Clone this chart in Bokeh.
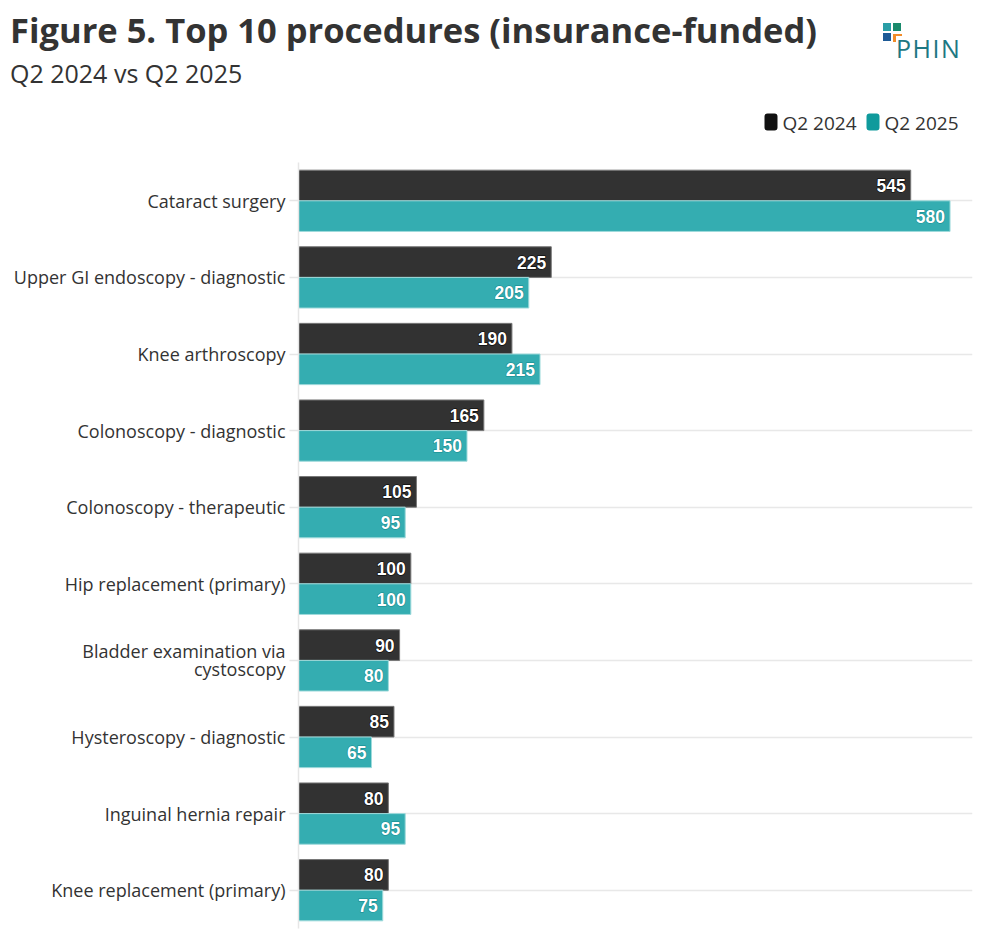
from bokeh.plotting import figure
from bokeh.models import FactorRange, Range1d, ColumnDataSource, Div
from bokeh.models.glyphs import Text
from bokeh.layouts import column
from bokeh.transform import dodge
from bokeh.core.properties import value
from bokeh.embed import file_html
from bokeh.resources import INLINE

# ---- data ----
categories = [
    "Cataract surgery",
    "Upper GI endoscopy - diagnostic",
    "Knee arthroscopy",
    "Colonoscopy - diagnostic",
    "Colonoscopy - therapeutic",
    "Hip replacement (primary)",
    "Bladder examination via\ncystoscopy",
    "Hysteroscopy - diagnostic",
    "Inguinal hernia repair",
    "Knee replacement (primary)",
]
q2_2024 = [545, 225, 190, 165, 105, 100, 90, 85, 80, 80]
q2_2025 = [580, 205, 215, 150, 95, 100, 80, 65, 95, 75]
series_names = ["Q2 2024", "Q2 2025"]

title_text = "Figure 5. Top 10 procedures (insurance-funded)"
subtitle_text = "Q2 2024 vs Q2 2025"
logo_text = "PHIN"

DARK = "#323232"
TEAL = "#34adb1"
TEAL_LEG = "#0f9a9c"
TXT = "#333333"
FONT = "Open Sans"

W = 974
LEFT = 298
DIV_H = 100
LEG_H = 60
MAIN_H = 772

# ---- header: title, subtitle and logo as HTML text ----
def box(l, t, w, hh, c):
    return (f'<div style="position:absolute;left:{l}px;top:{t}px;width:{w}px;height:{hh}px;'
            f'background:{c}"></div>')

header_html = (
    f'<div style="position:relative;width:{W}px;height:{DIV_H}px;font-family:\'{FONT}\';color:{TXT}">'
    f'<div style="position:absolute;left:10px;top:12.5px;font-size:34.5px;line-height:1;'
    f'font-weight:bold;white-space:nowrap">{title_text}</div>'
    f'<div style="position:absolute;left:10px;top:61px;font-size:25px;line-height:1;'
    f'white-space:nowrap">{subtitle_text}</div>'
    + box(882.5, 23, 8, 7.5, "#2a9ea6")
    + box(893, 23, 8, 7.5, "#1a8a6c")
    + box(882.5, 33, 8, 8, "#1d5a96")
    + box(893, 33.5, 9, 2.5, "#f28c28")
    + box(893, 33.5, 2.5, 8.5, "#f28c28")
    + f'<div style="position:absolute;left:896px;top:36px;font-size:25px;line-height:1;'
      f'letter-spacing:1.5px;color:#1e7883;white-space:nowrap">{logo_text}</div>'
    '</div>'
)
head = Div(text=header_html, width=W, height=DIV_H, margin=0)

# ---- legend figure; x data = canvas x - LEFT, y data = page y ----
h = figure(width=W, height=LEG_H, x_range=Range1d(0, W - LEFT - 2),
           y_range=Range1d(DIV_H + LEG_H, DIV_H),
           output_backend="svg", toolbar_location=None,
           min_border_left=LEFT, min_border_right=2, min_border_top=0, min_border_bottom=0)
h.axis.visible = False
h.grid.visible = False
h.outline_line_color = None
h.rect(x=[770.5 - LEFT, 872.5 - LEFT], y=[121.5, 121.5], width=[13, 13], height=[17, 17],
       fill_color=["#111111", TEAL_LEG], line_color=None, border_radius=3)
h.text(x=[782 - LEFT, 884 - LEFT], y=[122.5, 122.5], text=series_names, text_font=value(FONT),
       text_font_size="19px", text_color=TXT, text_baseline="middle")

# ---- main chart ----
cats_rev = categories[::-1]
src = ColumnDataSource(dict(cat=categories, a=q2_2024, b=q2_2025,
                            la=[str(v) for v in q2_2024], lb=[str(v) for v in q2_2025]))

p = figure(width=W, height=MAIN_H, y_range=FactorRange(*cats_rev, range_padding=0),
           x_range=Range1d(0, 600), output_backend="svg", toolbar_location=None,
           min_border_left=LEFT, min_border_right=2, min_border_top=2, min_border_bottom=4)
p.y_range.factor_padding = 0
p.outline_line_color = None
p.xaxis.visible = False
p.xgrid.visible = False
p.ygrid.grid_line_color = "#e8e8e8"
p.ygrid.grid_line_width = 1.5

p.yaxis.axis_line_color = "#e6e6e6"
p.yaxis.axis_line_width = 1.5
p.yaxis.major_tick_line_color = "#e6e6e6"
p.yaxis.major_tick_line_width = 1.5
p.yaxis.major_tick_out = 9
p.yaxis.major_tick_in = 0
p.yaxis.minor_tick_line_color = None
p.yaxis.major_label_standoff = 4
p.yaxis.major_label_text_font = FONT
p.yaxis.major_label_text_font_size = "18px"
p.yaxis.major_label_text_color = TXT
p.yaxis.major_label_text_line_height = 0.75

p.hbar(y=dodge("cat", 0.2, range=p.y_range), right="a", height=0.4, left=0, source=src,
       fill_color=DARK, line_color="#777777", line_width=1)
p.hbar(y=dodge("cat", -0.2, range=p.y_range), right="b", height=0.4, left=0, source=src,
       fill_color=TEAL, line_color="#9fdadb", line_width=1)

has_outline = "text_outline_color" in Text.properties()
for col, lab, off, oc in [("a", "la", 0.2, "#000000"), ("b", "lb", -0.2, "#12898d")]:
    base = dict(x=col, y=dodge("cat", off, range=p.y_range), text=lab, source=src,
                text_font=value("Liberation Sans"), text_font_style="bold", text_font_size="17.5px",
                text_align="right", text_baseline="middle", x_offset=-5)
    if has_outline:
        p.text(text_color=oc, text_outline_color=oc, **base)
    p.text(text_color="white", **base)

layout = column(head, h, p, spacing=0)
open("out.html", "w").write(file_html(layout, INLINE))
